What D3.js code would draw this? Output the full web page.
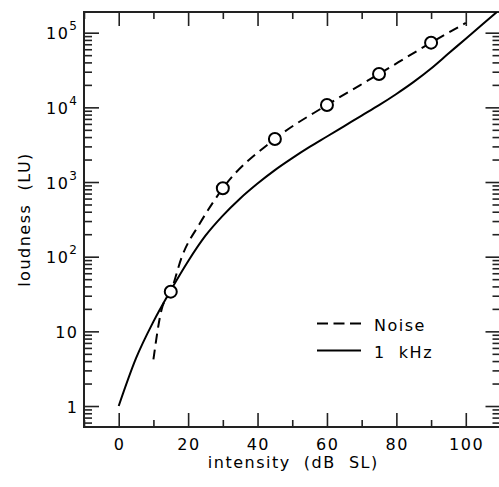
<!DOCTYPE html>
<html>
<head>
<meta charset="utf-8">
<script src="https://cdn.jsdelivr.net/npm/d3@7"></script>
<style>
  body { margin: 0; background: #fff; }
  text { font-family: "DejaVu Sans", "Liberation Sans", Arial, sans-serif; fill: #000; letter-spacing: 1.5px; white-space: pre; }
</style>
</head>
<body>
<div class="loudness-plot"></div>
<script>
// values
const noise_x = [10, 12.4, 15, 18.2, 23.4, 27.3, 30, 45, 60, 75, 90, 100];
const noise_y = [4.2, 20, 34, 100, 280, 545, 824, 3770, 10760, 28000, 73500, 135000];
const points_x = [15, 30, 45, 60, 75, 90];
const points_y = [34, 824, 3770, 10760, 28000, 73500];
const tone_x = [0, 5, 10, 15, 20, 25, 30, 35, 40, 45, 50, 55, 60, 65, 70, 75, 80, 85, 90, 95, 100, 105, 109];
const tone_y = [1, 4.37, 13.5, 35.5, 87, 191, 355, 603, 955, 1445, 2090, 2950, 4070, 5620, 7760, 10700, 15100, 21900, 33100, 52500, 83200, 132000, 190000];
const x_ticks = [0, 20, 40, 60, 80, 100];
const y_ticks = [1, 10, 100, 1000, 10000, 100000];
const y_labels = [['1', ''], ['10', ''], ['10', '2'], ['10', '3'], ['10', '4'], ['10', '5']];

const width = 499;
const height = 487;
const m_left = 84, m_right = 500.5, m_top = 12, m_bottom = 427;

const svg = d3.select('.loudness-plot')
  .append('svg')
  .attr('width', width)
  .attr('height', height);

const x = d3.scaleLinear().domain([-10, 110]).range([m_left, m_right]);
const y = d3.scaleLog().domain([Math.pow(10, -0.281), Math.pow(10, 5.277)]).range([m_bottom, m_top]);

svg.append('clipPath').attr('id', 'clip')
  .append('rect')
  .attr('x', m_left).attr('y', m_top)
  .attr('width', m_right - m_left).attr('height', m_bottom - m_top);

// minor ticks
const x_minor = d3.range(-10, 111, 10).filter(d => d % 20 != 0);
let y_minor = [];
for (let e = -1; e <= 5; e++) {
  for (let m = 2; m <= 9; m++) {
    const v = m * Math.pow(10, e);
    if (v > y.domain()[0] && v < y.domain()[1]) y_minor.push(v);
  }
}

const tickColor = '#222';

svg.append('g')
  .attr('transform', `translate(0,${m_bottom})`)
  .call(d3.axisBottom(x).tickValues(x_ticks).tickSize(-14).tickFormat(''))
  .call(g => g.select('.domain').remove());
svg.append('g')
  .attr('transform', `translate(0,${m_bottom})`)
  .call(d3.axisBottom(x).tickValues(x_minor).tickSize(-7).tickFormat(''))
  .call(g => g.select('.domain').remove());
svg.append('g')
  .attr('transform', `translate(0,${m_top})`)
  .call(d3.axisTop(x).tickValues(x_ticks).tickSize(-14).tickFormat(''))
  .call(g => g.select('.domain').remove());
svg.append('g')
  .attr('transform', `translate(0,${m_top})`)
  .call(d3.axisTop(x).tickValues(x_minor).tickSize(-7).tickFormat(''))
  .call(g => g.select('.domain').remove());

svg.append('g')
  .attr('transform', `translate(${m_left},0)`)
  .call(d3.axisLeft(y).tickValues(y_ticks).tickSize(-15).tickFormat(''))
  .call(g => g.select('.domain').remove());
svg.append('g')
  .attr('transform', `translate(${m_left},0)`)
  .call(d3.axisLeft(y).tickValues(y_minor).tickSize(-8).tickFormat(''))
  .call(g => g.select('.domain').remove());
svg.append('g')
  .attr('transform', `translate(${m_right},0)`)
  .call(d3.axisRight(y).tickValues(y_ticks).tickSize(-15).tickFormat(''))
  .call(g => g.select('.domain').remove());
svg.append('g')
  .attr('transform', `translate(${m_right},0)`)
  .call(d3.axisRight(y).tickValues(y_minor).tickSize(-8).tickFormat(''))
  .call(g => g.select('.domain').remove());

svg.selectAll('.tick line').attr('stroke', tickColor).attr('stroke-width', 1.6);

svg.append('rect')
  .attr('x', m_left).attr('y', m_top)
  .attr('width', m_right - m_left).attr('height', m_bottom - m_top)
  .attr('fill', 'none')
  .attr('stroke', tickColor)
  .attr('stroke-width', 2);

// tick labels
svg.selectAll('.xlab')
  .data(x_ticks)
  .enter()
  .append('text')
  .attr('x', d => x(d) + 0.8)
  .attr('y', 450)
  .attr('text-anchor', 'middle')
  .attr('font-size', 16)
  .text(d => d);

let ylab = svg.selectAll('.ylab')
  .data(y_ticks)
  .enter()
  .append('text')
  .attr('x', 78.5)
  .attr('y', d => y(d) + 6.5)
  .attr('text-anchor', 'end')
  .attr('font-size', 16);
ylab.append('tspan').text((d, i) => y_labels[i][0]);
ylab.append('tspan')
  .attr('dy', -9)
  .attr('font-size', 12)
  .text((d, i) => y_labels[i][1]);

// axis titles
svg.append('text')
  .attr('x', x(50) + 1)
  .attr('y', 468)
  .attr('text-anchor', 'middle')
  .attr('font-size', 16)
  .text('intensity  (dB  SL)');

svg.append('text')
  .attr('transform', `translate(30,${(m_top + m_bottom) / 2}) rotate(-90)`)
  .attr('text-anchor', 'middle')
  .attr('font-size', 16)
  .text('loudness  (LU)');

// curves
const line = d3.line()
  .x(d => x(d[0]))
  .y(d => y(d[1]))
  .curve(d3.curveMonotoneX);

const plot = svg.append('g').attr('clip-path', 'url(#clip)');

plot.append('path')
  .datum(d3.zip(tone_x, tone_y))
  .attr('d', line)
  .attr('fill', 'none')
  .attr('stroke', '#000')
  .attr('stroke-width', 2);

plot.append('path')
  .datum(d3.zip(noise_x, noise_y))
  .attr('d', line)
  .attr('fill', 'none')
  .attr('stroke', '#000')
  .attr('stroke-width', 2)
  .attr('stroke-dasharray', '10,6');

plot.selectAll('circle')
  .data(d3.zip(points_x, points_y))
  .enter()
  .append('circle')
  .attr('cx', d => x(d[0]))
  .attr('cy', d => y(d[1]))
  .attr('r', 6)
  .attr('fill', '#fff')
  .attr('stroke', '#000')
  .attr('stroke-width', 2);

// legend
const legend = svg.append('g');
legend.append('line')
  .attr('x1', 317).attr('x2', 361).attr('y1', 323.5).attr('y2', 323.5)
  .attr('stroke', '#000').attr('stroke-width', 2)
  .attr('stroke-dasharray', '11,5.5');
legend.append('line')
  .attr('x1', 317).attr('x2', 361).attr('y1', 350.5).attr('y2', 350.5)
  .attr('stroke', '#000').attr('stroke-width', 2);
legend.append('text')
  .attr('x', 374).attr('y', 330.5)
  .attr('font-size', 16)
  .text('Noise');
legend.append('text')
  .attr('x', 374).attr('y', 358)
  .attr('font-size', 16)
  .text('1  kHz');
</script>
</body>
</html>
